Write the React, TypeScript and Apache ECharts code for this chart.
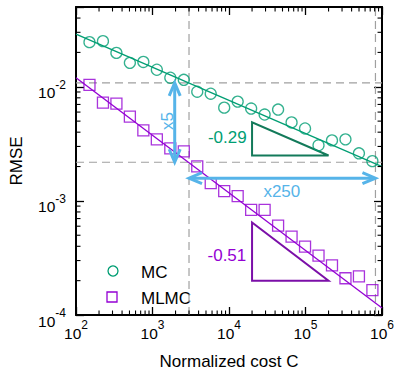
import React, { useEffect, useRef } from 'react';
import * as echarts from 'echarts';

// ---- data ----
const cost = [150, 225, 337.5, 506, 759, 1139, 1709, 2563, 3844, 5767, 8650, 12975, 19462, 29193, 43789, 65684, 98526, 147789, 221684, 332526, 498789, 748183];
const mcRmse = [0.0246, 0.0251, 0.0198, 0.0162, 0.0165, 0.0141, 0.0120, 0.0115, 0.00905, 0.00869, 0.00656, 0.00741, 0.00644, 0.00571, 0.00631, 0.00487, 0.00431, 0.00307, 0.00339, 0.00346, 0.00261, 0.00223];
const mlmcRmse = [0.0104, 0.00726, 0.00711, 0.00548, 0.00414, 0.00346, 0.00289, 0.00272, 0.00201, 0.00143, 0.00122, 0.00110, 0.000835, 0.000835, 0.000606, 0.000486, 0.000398, 0.000332, 0.000272, 0.000210, 0.000218, 0.000165];

// fitted lines: [cost, rmse] endpoints
const mcFit = [[100, 0.0289], [1e6, 0.0020]];
const mlmcFit = [[100, 0.0120], [1e6, 0.000115]];

// reference (dashed) lines
const refCosts = [3000, 8.2e5];
const refRmse = [0.0108, 0.00218];

// double arrows: [x1, y1, x2, y2]
const arrows = [
  [1950, 0.0108, 1950, 0.00218],
  [3000, 0.00158, 8.2e5, 0.00158],
];

// slope triangles: [xLeft, xRight, yBase, yTop]
const mcTriangle = [2e4, 2e5, 0.0025, 0.00488];
const mlmcTriangle = [2e4, 2e5, 0.0002, 0.000647];

// annotation texts
const annotTexts = ['x5', 'x250', '-0.29', '-0.51'];
const annotX = [1580, 49000, 1.70e4, 1.68e4];
const annotY = [0.0050, 0.0012, 0.0036, 0.000333];

// axis extents and ticks
const X_MIN = 100, X_MAX = 1e6, Y_MIN = 1e-4, Y_MAX = 0.05;
const xMajorExps = [2, 3, 4, 5, 6];
const yMajorExps = [-4, -3, -2];

const GREEN = '#009e73';
const PURPLE = '#9400d3';
const BLUE = '#56b4e9';
const GREEN_DARK = '#137a5a';
const PURPLE_DARK = '#7b0fa8';
const FONT = '"Liberation Sans", Arial, sans-serif';

const minorX: number[] = [];
for (let i = 0; i < xMajorExps.length - 1; i++) for (let m = 2; m <= 9; m++) minorX.push(m * Math.pow(10, xMajorExps[i]));
const minorY: number[] = [];
for (let i = 0; i < yMajorExps.length; i++) for (let m = 2; m <= 9; m++) {
  const v = m * Math.pow(10, yMajorExps[i]);
  if (v < Y_MAX * 0.999) minorY.push(v);
}

const annotColors = [BLUE, BLUE, GREEN, PURPLE];
const annotAlign = ['center', 'center', 'right', 'right'];
const annotRot = [Math.PI / 2, 0, 0, 0];

function fmt(v: number) {
  const e = Math.log10(v);
  const r = Math.round(e);
  if (Math.abs(e - r) > 1e-6) return '';
  return `{b|10}{s|${r}}`;
}

const labelRich = {
  b: { fontSize: 15.5, fontFamily: FONT, color: '#000', lineHeight: 22, verticalAlign: 'bottom' },
  s: { fontSize: 12, fontFamily: FONT, color: '#000', lineHeight: 12, verticalAlign: 'top' },
};

function baseAxisCommon() {
  return {
    type: 'log',
    logBase: 10,
    axisLine: { show: true, onZero: false, lineStyle: { color: '#000', width: 2 } },
    axisTick: { show: true, inside: true, length: 8, lineStyle: { color: '#000', width: 1.3 } },
    splitLine: { show: false },
    minorTick: { show: false },
    minorSplitLine: { show: false },
  };
}

export default function App() {
  const ref = useRef<HTMLDivElement>(null);
  useEffect(() => {
    document.body.style.margin = '0';
    const chart = echarts.init(ref.current!, null, { renderer: 'svg' });

    const triRender = (tri: number[], color: string) => (params: any, api: any) => {
      const p1 = api.coord([tri[0], tri[3]]);
      const p2 = api.coord([tri[0], tri[2]]);
      const p3 = api.coord([tri[1], tri[2]]);
      return {
        type: 'polygon',
        shape: { points: [p1, p2, p3] },
        style: { fill: 'none', stroke: color, lineWidth: 2 },
      };
    };

    const option: any = {
      animation: false,
      grid: { left: 74, right: 14, top: 7, bottom: 58, containLabel: false },
      xAxis: [
        {
          ...baseAxisCommon(),
          min: X_MIN, max: X_MAX, position: 'bottom',
          name: 'Normalized cost C', nameLocation: 'middle', nameGap: 38,
          nameTextStyle: { fontSize: 17, fontFamily: FONT, color: '#000' },
          axisLabel: { formatter: fmt, rich: labelRich, margin: 4, color: '#000' },
        },
        {
          ...baseAxisCommon(),
          min: X_MIN, max: X_MAX, position: 'top',
          axisLabel: { show: false },
        },
      ],
      yAxis: [
        {
          ...baseAxisCommon(),
          min: Y_MIN, max: Y_MAX, position: 'left',
          name: 'RMSE', nameLocation: 'middle', nameGap: 51, nameRotate: 90,
          nameTextStyle: { fontSize: 17, fontFamily: FONT, color: '#000' },
          axisLabel: { formatter: fmt, rich: labelRich, margin: 10, color: '#000', padding: [6, 0, 0, 0] },
        },
        {
          ...baseAxisCommon(),
          min: Y_MIN, max: Y_MAX, position: 'right',
          axisLabel: { show: false },
        },
      ],
      graphic: [
        { type: 'circle', shape: { cx: 113, cy: 271, r: 5 }, style: { fill: 'none', stroke: GREEN, lineWidth: 1.3 } },
        { type: 'rect', shape: { x: 107, y: 292, width: 10, height: 10 }, style: { fill: 'none', stroke: PURPLE, lineWidth: 1.3 } },
        { type: 'text', x: 141, y: 272, style: { text: 'MC', fontSize: 17, fontFamily: FONT, fill: '#000', verticalAlign: 'middle', textVerticalAlign: 'middle' } },
        { type: 'text', x: 141, y: 298, style: { text: 'MLMC', fontSize: 17, fontFamily: FONT, fill: '#000', verticalAlign: 'middle', textVerticalAlign: 'middle' } },
      ],
      series: [
        ...refCosts.map((c) => ({
          type: 'line', data: [[c, Y_MIN], [c, Y_MAX]], symbol: 'none', silent: true, z: 1,
          lineStyle: { color: '#a0a0a0', width: 1.2, type: [8, 5] },
        })),
        ...refRmse.map((r) => ({
          type: 'line', data: [[X_MIN, r], [X_MAX, r]], symbol: 'none', silent: true, z: 1,
          lineStyle: { color: '#a0a0a0', width: 1.2, type: [8, 5] },
        })),
        { type: 'line', data: mcFit, symbol: 'none', z: 2, lineStyle: { color: GREEN, width: 1.3 } },
        { type: 'line', data: mlmcFit, symbol: 'none', z: 2, lineStyle: { color: PURPLE, width: 1.3 } },
        {
          name: 'MC', type: 'scatter', z: 3, symbol: 'circle', symbolSize: 11,
          data: cost.map((c, i) => [c, mcRmse[i]]),
          itemStyle: { color: 'rgba(0,0,0,0)', borderColor: GREEN, borderWidth: 1.3 },
        },
        {
          name: 'MLMC', type: 'scatter', z: 3, symbol: 'rect', symbolSize: 11,
          data: cost.map((c, i) => [c, mlmcRmse[i]]),
          itemStyle: { color: 'rgba(0,0,0,0)', borderColor: PURPLE, borderWidth: 1.3 },
        },
        { type: 'custom', z: 3, data: [[mcTriangle[0], mcTriangle[2]]], renderItem: triRender(mcTriangle, GREEN_DARK) },
        { type: 'custom', z: 3, data: [[mlmcTriangle[0], mlmcTriangle[2]]], renderItem: triRender(mlmcTriangle, PURPLE_DARK) },
        {
          type: 'custom', z: 4,
          data: arrows,
          encode: { x: [0, 2], y: [1, 3] },
          renderItem: (params: any, api: any) => {
            const a = api.coord([api.value(0), api.value(1)]);
            const b = api.coord([api.value(2), api.value(3)]);
            const dx = b[0] - a[0], dy = b[1] - a[1];
            const len = Math.sqrt(dx * dx + dy * dy);
            const ux = dx / len, uy = dy / len;
            const nx = -uy, ny = ux;
            const L = 13, W = 5.5;
            const head = (p: number[], sx: number, sy: number) => [
              [p[0] - sx * L + nx * W, p[1] - sy * L + ny * W],
              [p[0], p[1]],
              [p[0] - sx * L - nx * W, p[1] - sy * L - ny * W],
            ];
            const st = { stroke: BLUE, lineWidth: 3, fill: 'none', lineJoin: 'miter' };
            return {
              type: 'group',
              children: [
                { type: 'line', shape: { x1: a[0] + ux * 2, y1: a[1] + uy * 2, x2: b[0] - ux * 2, y2: b[1] - uy * 2 }, style: st },
                { type: 'polyline', shape: { points: head(b, ux, uy) }, style: st },
                { type: 'polyline', shape: { points: head(a, -ux, -uy) }, style: st },
              ],
            };
          },
        },
        {
          type: 'custom', z: 5,
          data: annotTexts.map((t, i) => [annotX[i], annotY[i]]),
          renderItem: (params: any, api: any) => {
            const i = params.dataIndex;
            const p = api.coord([api.value(0), api.value(1)]);
            return {
              type: 'text', x: p[0], y: p[1], rotation: annotRot[i],
              style: {
                text: annotTexts[i], fill: annotColors[i], fontSize: 17, fontFamily: FONT,
                align: annotAlign[i], verticalAlign: 'middle',
              },
            };
          },
        },
        {
          type: 'custom', z: 6, silent: true,
          data: minorX.map((v) => [v, Y_MIN]),
          renderItem: (params: any, api: any) => {
            const v = api.value(0);
            const b = api.coord([v, Y_MIN]);
            const t = api.coord([v, Y_MAX]);
            const st = { stroke: '#000', lineWidth: 1.1 };
            return {
              type: 'group',
              children: [
                { type: 'line', shape: { x1: b[0], y1: b[1], x2: b[0], y2: b[1] - 4.5 }, style: st },
                { type: 'line', shape: { x1: t[0], y1: t[1], x2: t[0], y2: t[1] + 4.5 }, style: st },
              ],
            };
          },
        },
        {
          type: 'custom', z: 6, silent: true,
          data: minorY.map((v) => [X_MIN, v]),
          renderItem: (params: any, api: any) => {
            const v = api.value(1);
            const l = api.coord([X_MIN, v]);
            const r = api.coord([X_MAX, v]);
            const st = { stroke: '#000', lineWidth: 1.1 };
            return {
              type: 'group',
              children: [
                { type: 'line', shape: { x1: l[0], y1: l[1], x2: l[0] + 4.5, y2: l[1] }, style: st },
                { type: 'line', shape: { x1: r[0], y1: r[1], x2: r[0] - 4.5, y2: r[1] }, style: st },
              ],
            };
          },
        },
      ],
    };
    chart.setOption(option);
    return () => chart.dispose();
  }, []);
  return <div ref={ref} style={{ width: 397, height: 375 }} />;
}
